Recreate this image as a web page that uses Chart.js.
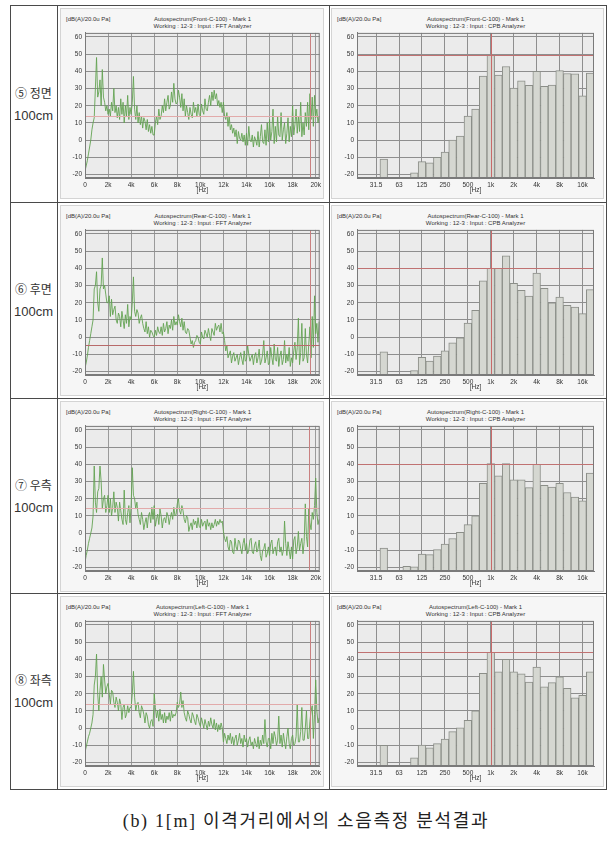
<!DOCTYPE html>
<html>
<head>
<meta charset="utf-8">
<script src="https://cdn.jsdelivr.net/npm/chart.js@4.4.0/dist/chart.umd.min.js"></script>
<style>
  body { margin: 0; width: 612px; height: 842px; background: #fff; position: relative; overflow: hidden; }
  .line { position: absolute; background: #4a4a4a; }
  .panel { position: absolute; background: #f6f6f6; border: 1px solid #d4d4d4; box-sizing: border-box; }
  .hdr { position: absolute; font-family: 'Liberation Sans', sans-serif; font-size: 6px; color: #333; white-space: nowrap; line-height: 7px; }
  .rowlab { position: absolute; left: 10px; width: 47px; text-align: center; color: #333; white-space: nowrap; }
  .caption { position: absolute; left: 0; top: 806px; width: 612px; text-align: center; font-size: 18px; color: #222;
             font-family: 'Liberation Serif', 'Noto Sans CJK KR', serif; letter-spacing: 1.7px; }
</style>
</head>
<body>
<div class="caption">(b) 1[m] 이격거리에서의 소음측정 분석결과</div>
<script>
// FFT spectra, dB(A), one value per 100 Hz bin from 0 Hz to 20.3 kHz
const fftStepHz = 100;
const fftTicksHz = [0, 2000, 4000, 6000, 8000, 10000, 12000, 14000, 16000, 18000, 20000];
const frontFft = [
  -18, -15, -12, -8, -4, 0, 6, 10, 13, 30, 48, 25, 28, 35, 20, 41, 25, 22, 17, 20,
  15, 18, 14, 22, 17, 30, 16, 20, 13, 19, 12, 24, 15, 22, 10, 20, 14, 26, 12, 19,
  15, 22, 37, 18, 12, 20, 10, 16, 9, 14, 7, 13, 11, 6, 12, 5, 9, 4, 8, 3,
  3, 10, 14, 9, 18, 12, 14, 20, 16, 24, 17, 22, 26, 18, 20, 28, 22, 33, 24, 21,
  22, 29, 25, 19, 27, 17, 24, 14, 20, 16, 12, 19, 15, 13, 22, 16, 19, 14, 21, 15,
  14, 21, 17, 15, 24, 18, 17, 22, 26, 20, 28, 23, 29, 24, 27, 20, 23, 19, 22, 16,
  22, 14, 12, 16, 8, 14, 6, 9, 4, 7, 2, 6, -2, 5, 1, 0, 4, -1, 3, -3,
  4, -3, 8, 0, -1, 3, -4, 2, 0, -3, 5, -4, 2, 9, -1, -2, 6, -3, 10, -1,
  12, 0, 5, 18, -2, 8, -1, 14, 3, 2, 16, 0, 6, 10, -2, 4, 13, -1, 8, 2,
  20, 3, 9, 18, 4, 14, 5, 22, 2, 10, 3, 16, 8, 22, 6, 27, 12, 25, 8, 26,
  13, 18, 10, 14
];
const rearFft = [
  -18, -15, -11, -6, -2, 2, 6, 10, 28, 30, 38, 20, 15, 28, 30, 46, 28, 30, 25, 20,
  20, 24, 12, 22, 13, 16, 18, 10, 8, 14, 12, 6, 15, 10, 5, 13, 8, 19, 6, 12,
  10, 20, 35, 15, 12, 16, 14, 8, 11, 13, 8, 5, 3, 9, 2, 6, 0, 4, 3, 1,
  0, 4, 1, 6, 3, 2, 6, 1, 8, 3, 5, 9, 2, 7, 5, 10, 4, 12, 7, 9,
  7, 13, 9, 6, 11, 4, 9, 3, 2, 5, 4, 0, -4, -2, -6, -3, -2, 1, 0, -3,
  -4, 3, 0, -1, 4, 2, 0, 5, 1, -2, 5, 3, 1, 8, 4, 6, 7, 3, 8, 2,
  3, -2, -8, -5, -12, -10, -8, -15, -11, -9, -14, -12, -10, -16, -12, -9, -13, -16, -8, -14,
  -13, -5, -10, -14, -12, -10, -16, -11, -9, -15, -12, -7, -16, -14, -10, -2, -15, -12, -8, -16,
  -15, -6, -12, -16, -4, -13, -14, -6, -17, -11, -8, -16, -13, -2, -15, -10, -14, -6, -17, -12,
  -15, -8, -3, -13, -6, 11, -16, -9, 8, -14, -12, 5, -10, -15, -4, 6, -12, 12, -6, 24,
  2, 8, -3, 9
];
const rightFft = [
  -17, -13, -10, -6, -3, 0, 3, 10, 39, 18, 12, 24, 26, 39, 30, 14, 20, 22, 12, 16,
  22, 12, 20, 10, 15, 24, 12, 18, 15, 7, 18, 13, 8, 5, 25, 8, 5, 12, 16, 6,
  16, 38, 22, 20, 14, 18, 11, 8, 5, 12, 8, 2, 6, 9, 3, 10, 12, 6, 15, 8,
  16, 4, 8, 11, 5, 14, 10, 3, 8, 9, 6, 12, 10, 5, 9, 12, 8, 15, 10, 11,
  17, 20, 13, 11, 16, 13, 8, 6, 10, 9, 1, 4, 6, 2, 8, 5, 7, 3, 9, 4,
  3, 8, 4, 6, 7, 2, 8, 4, 6, 2, 6, 3, 5, 8, 4, 7, 5, 8, 6, 7,
  1, -3, -5, -2, -8, -10, -4, -5, -11, -12, -3, -8, -10, -4, -5, -9, -12, -6, -3, -10,
  -6, -12, -10, -4, -3, -11, -12, -7, -5, -11, -9, -4, -13, -16, -10, -9, -6, -14, -12, -8,
  -13, -6, -4, -12, -9, -8, -13, -5, -3, -11, -8, -13, -10, 7, -6, -13, -5, -10, -15, -8,
  -15, -4, -2, -12, -8, 1, -10, -6, -3, -12, -5, 17, -2, -8, 14, 6, 2, 12, 8, 16,
  32, 12, 5, 8
];
const leftFft = [
  -14, -11, -8, -5, -3, 0, 3, 8, 25, 30, 43, 20, 10, 22, 30, 18, 37, 28, 20, 24,
  26, 20, 14, 22, 21, 15, 12, 18, 15, 10, 17, 14, 5, 12, 14, 6, 8, 13, 9, 12,
  12, 20, 33, 18, 10, 14, 15, 9, 6, 13, 11, 8, 3, 9, 7, 2, 0, 4, 5, 1,
  20, 12, 6, 10, 4, 11, 5, 8, 3, 9, 3, 7, 5, 9, 4, 10, 6, 8, 7, 9,
  15, 12, 14, 21, 12, 16, 9, 6, 4, 10, 8, 5, 3, 9, 7, 4, 2, 8, 6, 3,
  1, 6, 3, 0, 5, 2, -1, 4, 1, 6, 2, 0, 5, -1, 3, -2, 2, -1, 3, 0,
  -8, -3, -6, -9, -4, -7, -3, -9, -5, -10, -6, -4, -10, -7, -3, -9, -6, -11, -4, -8,
  -6, -11, -7, -5, -10, -8, -12, -6, -9, -11, -5, -12, -7, -10, -4, -9, 5, -8, -11, -6,
  -6, -12, -3, -9, -2, -5, -10, -7, 7, -9, -4, -11, -3, -8, -12, -5, 0, -9, -12, -6,
  -4, -10, -9, -5, 14, -8, -8, -2, 12, -7, -7, 0, 10, -6, -6, 4, 10, 13, -6, 8,
  28, 10, 3, 6
];

// 1/3-octave CPB spectra, dB(A); null = no bar drawn
const cpbBands = ['20', '25', '31.5', '40', '50', '63', '80', '100', '125', '160', '200', '250', '315', '400', '500',
  '630', '800', '1k', '1.25k', '1.6k', '2k', '2.5k', '3.15k', '4k', '5k', '6.3k', '8k', '10k', '12.5k', '16k', '20k'];
const cpbTickLabels = ['31.5', '63', '125', '250', '500', '1k', '2k', '4k', '8k', '16k'];
const frontCpb = [null, null, null, -11, null, null, null, -19, -12.5, -13.2, -10, -7, 0, 2.4, 14,
  18, 37.2, 49.6, 37.8, 42.8, 30.2, 34.4, 31.9, 40, 31.3, 32, 40.4, 38.7, 38.5, 25.7, 38.9];
const rearCpb = [null, null, null, -8.5, null, null, null, -19.5, -11.8, -13.9, -11, -8, -3.3, -0.4, 8.2,
  15.5, 32.7, 40, 40, 47.2, 31.3, 27.2, 23.9, 37.2, 28.3, 20, 23.3, 18.5, 17.4, 13.7, 27.6];
const rightCpb = [null, null, null, -8.7, null, null, -19.3, -19.6, -12.2, -12.5, -9.6, -6.4, -3.1, 0.5, 4.9,
  10, 29, 40.4, 33.3, 40.4, 30.9, 30.9, 26.4, 40, 27.8, 26.7, 29, 23.6, 20.9, 18.7, 34.9];
const leftCpb = [null, null, null, -10, null, null, null, -17.3, -9.8, -11.5, -9, -6.4, -2, 0.2, 4.5,
  10, 31.8, 44, 32.7, 40, 32.7, 31.6, 26.7, 35.5, 24, 26.4, 29.8, 23.1, 17.6, 19.1, 32.7];

// cursor readouts shown in the analyzer screens
const fftCursorDb = [14, -4.5, 14.5, 14];
const fftCursorHz = [19500, 19500, 19400, 19500];
const cpbCursorDb = [49.6, 40, 40, 44];
const cpbCursorBand = '1k';

const rowLabels = ['⑤ 정면', '⑥ 후면', '⑦ 우측', '⑧ 좌측'];
const rowDistance = '100cm';
const positions = ['Front', 'Rear', 'Right', 'Left'];
const fftSeries = [frontFft, rearFft, rightFft, leftFft];
const cpbSeries = [frontCpb, rearCpb, rightCpb, leftCpb];
const unitText = '[dB(A)/20.0u Pa]';

// table layout
const rowTops = [5, 202, 398, 593];
const tableBottom = 789;
const tableLeft = 10, labelRight = 57, midLine = 329, tableRight = 606;

function addDiv(cls, css, text) {
  const d = document.createElement('div');
  d.className = cls;
  Object.assign(d.style, css);
  if (text) d.textContent = text;
  document.body.appendChild(d);
  return d;
}

// table lines
[tableLeft, labelRight, midLine, tableRight].forEach(x => {
  addDiv('line', { left: x + 'px', top: rowTops[0] + 'px', width: '1px', height: (tableBottom - rowTops[0] + 1) + 'px' });
});
[...rowTops, tableBottom].forEach(y => {
  addDiv('line', { left: tableLeft + 'px', top: y + 'px', width: (tableRight - tableLeft + 1) + 'px', height: '1px' });
});

const tickFont = { family: 'Liberation Sans', size: 6.5 };

const plotDecor = {
  id: 'plotDecor',
  beforeDraw(chart) {
    const { ctx, chartArea: a } = chart;
    ctx.save();
    ctx.fillStyle = '#ebebeb';
    ctx.fillRect(a.left, a.top, a.width, a.height);
    ctx.restore();
  },
  afterDatasetsDraw(chart, args, opts) {
    const { ctx, chartArea: a, scales: { x, y } } = chart;
    ctx.save();
    ctx.beginPath();
    ctx.rect(a.left, a.top, a.width, a.height);
    ctx.clip();
    ctx.lineWidth = 1;
    if (opts.hDb != null) {
      const py = Math.round(y.getPixelForValue(opts.hDb)) + 0.5;
      ctx.strokeStyle = opts.hColor;
      ctx.beginPath(); ctx.moveTo(a.left, py); ctx.lineTo(a.right, py); ctx.stroke();
    }
    if (opts.vAt != null) {
      const px = Math.round(x.getPixelForValue(opts.vAt)) + 0.5;
      ctx.strokeStyle = opts.vColor;
      ctx.beginPath(); ctx.moveTo(px, a.top); ctx.lineTo(px, a.bottom); ctx.stroke();
    }
    ctx.restore();
    ctx.save();
    ctx.strokeStyle = '#7a7a7a';
    ctx.strokeRect(a.left + 0.5, a.top + 0.5, a.width - 1, a.height - 1);
    ctx.restore();
  }
};

const yScale = (w) => ({
  min: -22, max: 62.3,
  ticks: { stepSize: 10, includeBounds: false, font: tickFont, color: '#333', padding: 3 },
  grid: { color: '#8e8e8e', drawTicks: false },
  border: { color: '#7a7a7a' },
  afterFit(s) { s.width = w; }
});

function makeCanvas(left, top, w, h) {
  const c = document.createElement('canvas');
  c.width = w; c.height = h;
  Object.assign(c.style, { position: 'absolute', left: left + 'px', top: top + 'px', width: w + 'px', height: h + 'px' });
  document.body.appendChild(c);
  return c;
}

rowTops.forEach((top, r) => {
  const nextTop = r < 3 ? rowTops[r + 1] : tableBottom;
  const mid = (top + nextTop) / 2;
  addDiv('rowlab', { top: (mid - 20) + 'px', fontFamily: "'Noto Sans CJK KR', sans-serif", fontSize: '12px' }, rowLabels[r]);
  addDiv('rowlab', { top: (mid + 4) + 'px', fontFamily: "'Liberation Sans', sans-serif", fontSize: '13px' }, rowDistance);

  // analyzer screen panels
  addDiv('panel', { left: '60px', top: (top + 3) + 'px', width: '264px', height: '191px' });
  addDiv('panel', { left: '331px', top: (top + 3) + 'px', width: '273px', height: '191px' });

  // headers
  const title = 'Autospectrum(' + positions[r] + '-C-100) - Mark 1';
  addDiv('hdr', { left: '66px', top: (top + 11) + 'px' }, unitText);
  addDiv('hdr', { left: '85px', width: '235px', textAlign: 'center', top: (top + 11) + 'px' }, title);
  addDiv('hdr', { left: '85px', width: '235px', textAlign: 'center', top: (top + 18) + 'px' }, 'Working : 12-3 : Input : FFT Analyzer');
  addDiv('hdr', { left: '337px', top: (top + 11) + 'px' }, unitText);
  addDiv('hdr', { left: '357px', width: '237px', textAlign: 'center', top: (top + 11) + 'px' }, title);
  addDiv('hdr', { left: '357px', width: '237px', textAlign: 'center', top: (top + 18) + 'px' }, 'Working : 12-3 : Input : CPB Analyzer');

  // FFT line chart
  const fftCanvas = makeCanvas(60, top + 21, 264, 168);
  new Chart(fftCanvas, {
    type: 'line',
    data: {
      datasets: [{
        data: fftSeries[r].map((v, i) => ({ x: i * fftStepHz, y: v })),
        borderColor: '#63a352', borderWidth: 0.9, pointRadius: 0, tension: 0
      }]
    },
    options: {
      responsive: false, animation: false, events: [],
      layout: { autoPadding: false, padding: { top: 4, right: 4 } },
      plugins: {
        legend: { display: false }, tooltip: { enabled: false },
        plotDecor: { hDb: fftCursorDb[r], hColor: r === 1 ? '#b86a6a' : '#e2aaaa', vAt: fftCursorHz[r], vColor: '#c98080' }
      },
      scales: {
        x: {
          type: 'linear', min: 0, max: 20350,
          afterBuildTicks(s) { s.ticks = fftTicksHz.map(v => ({ value: v })); },
          ticks: {
            maxRotation: 0, autoSkip: false, font: tickFont, color: '#333', padding: 3,
            callback: v => v === 0 ? '0' : (v / 1000) + 'k'
          },
          grid: { color: '#9a9a9a', drawTicks: false },
          border: { color: '#7a7a7a' },
          title: { display: true, text: '[Hz]', font: tickFont, color: '#333', padding: 0 },
          afterFit(s) { s.height = 16; }
        },
        y: yScale(25)
      }
    },
    plugins: [plotDecor]
  });

  // CPB bar chart
  const cpbCanvas = makeCanvas(331, top + 21, 267, 168);
  new Chart(cpbCanvas, {
    type: 'bar',
    data: {
      labels: cpbBands,
      datasets: [{
        data: cpbSeries[r], base: -22,
        backgroundColor: '#d5d7d1', borderColor: '#8b8e88', borderWidth: 1,
        barPercentage: 1, categoryPercentage: 1
      }]
    },
    options: {
      responsive: false, animation: false, events: [],
      layout: { autoPadding: false, padding: { top: 4, right: 4 } },
      plugins: {
        legend: { display: false }, tooltip: { enabled: false },
        plotDecor: { hDb: cpbCursorDb[r], hColor: '#c07272', vAt: cpbBands.indexOf(cpbCursorBand), vColor: '#c86a6a' }
      },
      scales: {
        x: {
          type: 'category',
          ticks: {
            autoSkip: false, maxRotation: 0, font: tickFont, color: '#333', padding: 3,
            callback: (v, i) => cpbTickLabels.includes(cpbBands[i]) ? cpbBands[i] : ''
          },
          grid: {
            offset: false, drawTicks: false,
            color: c => cpbTickLabels.includes(cpbBands[c.index]) ? '#8e8e8e' : 'rgba(0,0,0,0)'
          },
          border: { color: '#7a7a7a' },
          title: { display: true, text: '[Hz]', font: tickFont, color: '#333', padding: 0 },
          afterFit(s) { s.height = 16; }
        },
        y: yScale(26)
      }
    },
    plugins: [plotDecor]
  });
});
</script>
</body>
</html>
